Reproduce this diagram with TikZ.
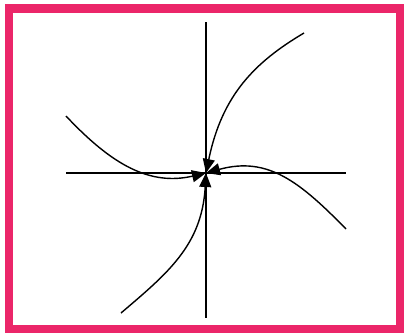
\documentclass[tikz,border=0pt]{standalone}
\usetikzlibrary{arrows.meta}
\definecolor{framepink}{RGB}{235,38,105}
\begin{document}
\begin{tikzpicture}[x=1pt,y=-1pt,
  axis/.style={line width=1.4pt,black},
  traj/.style={line width=1.4pt,black,-{Triangle[length=14pt,width=12pt]}}]
\useasboundingbox (0,0) rectangle (404,333);
\draw[framepink,line width=8.5pt] (9,8.5) rectangle (400,329);
\coordinate (O) at (206,173);
\coordinate (top) at (206,22);
\coordinate (bot) at (206,318);
\coordinate (lft) at (66,173);
\coordinate (rgt) at (346,173);
\coordinate (s1) at (304,33);
\coordinate (s2) at (121,313);
\coordinate (s3) at (66,116);
\coordinate (s4) at (346,229);
\draw[axis] (top) -- (bot);
\draw[axis] (lft) -- (rgt);
\draw[traj] (s1) .. controls (255,62) and (222,95) .. (O);
\draw[traj] (s2) .. controls (168,273) and (202,245) .. (O);
\draw[traj] (s3) .. controls (112,165) and (150,186) .. (O);
\draw[traj] (s4) .. controls (300,182) and (268,156) .. (O);
\end{tikzpicture}
\end{document}
